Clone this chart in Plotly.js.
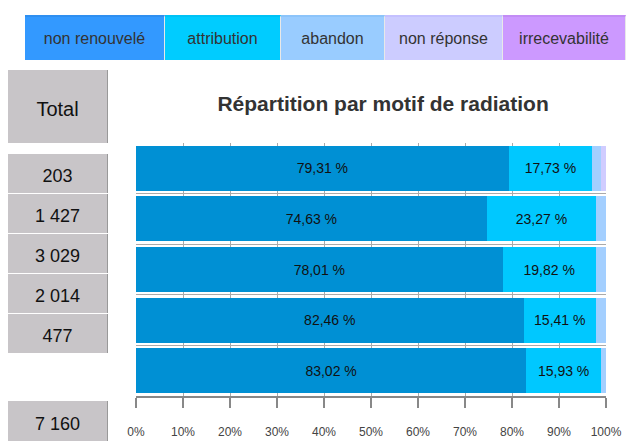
<!DOCTYPE html>
<html>
<head>
<meta charset="utf-8">
<script src="https://cdn.plot.ly/plotly-3.0.1.min.js"></script>
<style>
  body { margin: 0; background: #fff; font-family: "Liberation Sans", Arial, sans-serif; }
  #wrap { position: relative; width: 626px; height: 441px; overflow: hidden; }
  #chart { position: absolute; left: 0; top: 0; width: 626px; height: 441px; }
  #legend { position: absolute; left: 25px; top: 15px; height: 45px; display: flex; }
  #legend div { height: 45px; line-height: 44px; text-align: center; font-size: 16px; color: #333;
                border-top: 2px solid; border-right: 1px solid #e8e8e8; box-sizing: border-box; }
  .cell { position: absolute; left: 8px; width: 100px; background: #c8c5c8; color: #111;
          text-align: center; font-size: 18px; border-right: 1px solid #999; box-sizing: border-box; }
</style>
</head>
<body>
<div id="wrap">
  <div id="chart"></div>
  <div id="legend"></div>
  <div id="cells"></div>
</div>
<script>
// Categories (one row per group) and totals shown at left
const rows = ['r1', 'r2', 'r3', 'r4', 'r5'];
const totals = ['203', '1 427', '3 029', '2 014', '477'];
const grandTotal = '7 160';

// Series (percent of each row)
const seriesNames = ['non renouvelé', 'attribution', 'abandon', 'non réponse', 'irrecevabilité'];
const nonRenouvele = [79.31, 74.63, 78.01, 82.46, 83.02];
const attribution = [17.73, 23.27, 19.82, 15.41, 15.93];
const abandon = [2.0, 2.1, 2.17, 2.13, 1.05];
const nonReponse = [0.96, 0, 0, 0, 0];
const irrecevabilite = [0, 0, 0, 0, 0];

const barColors = ['#0090d4', '#00c8ff', '#a3cfff', '#d0ccff', '#cc99ff'];
const legendColors = ['#3399ff', '#00ccff', '#99ccff', '#ccccff', '#cc99ff'];
const legendTop = ['#2f8ff0', '#00c2f5', '#8cc4fa', '#c4c0ff', '#c28cf5'];
const legendWidths = [140, 116, 104, 118, 123];

// HTML legend
const legend = document.getElementById('legend');
seriesNames.forEach((name, i) => {
    const d = document.createElement('div');
    d.textContent = name;
    d.style.width = legendWidths[i] + 'px';
    d.style.background = legendColors[i];
    d.style.borderTopColor = legendTop[i];
    legend.appendChild(d);
});

// Left cells
const cells = document.getElementById('cells');
function addCell(text, top, height, size) {
    const c = document.createElement('div');
    c.className = 'cell';
    c.textContent = text;
    c.style.top = top + 'px';
    c.style.height = height + 'px';
    c.style.lineHeight = (height + 6) + 'px';
    if (size) c.style.fontSize = size + 'px';
    cells.appendChild(c);
}
addCell('Total', 70, 73, 20);
totals.forEach((t, i) => addCell(t, 154 + i * 40, 39));
addCell(grandTotal, 401, 40);

const fmt = v => v.toFixed(2).replace('.', ',') + ' %';
const allValues = [nonRenouvele, attribution, abandon, nonReponse, irrecevabilite];

const traces = allValues.map((vals, i) => ({
    type: 'bar',
    orientation: 'h',
    y: rows,
    x: vals,
    name: seriesNames[i],
    width: 0.89,
    marker: { color: barColors[i] },
    text: i < 2 ? vals.map(fmt) : undefined,
    textposition: i < 2 ? 'inside' : 'none',
    insidetextanchor: 'middle',
    constraintext: 'none',
    textfont: { color: '#111', size: 14, family: 'Liberation Sans, Arial, sans-serif' },
    hoverinfo: 'none'
}));

const layout = {
    width: 626,
    height: 441,
    barmode: 'stack',
    showlegend: false,
    paper_bgcolor: 'rgba(0,0,0,0)',
    plot_bgcolor: '#fff',
    margin: { l: 136, r: 20, t: 143, b: 45 },
    title: {
        text: '<b>Répartition par motif de radiation</b>',
        font: { size: 21, color: '#333', family: 'Liberation Sans, Arial, sans-serif' },
        x: 0.612, xanchor: 'center', y: 0.766, yanchor: 'middle'
    },
    xaxis: {
        range: [0, 100],
        tickvals: [0, 10, 20, 30, 40, 50, 60, 70, 80, 90, 100],
        ticktext: ['0%', '10%', '20%', '30%', '40%', '50%', '60%', '70%', '80%', '90%', '100%'],
        ticks: 'outside', ticklen: 10, tickcolor: '#888', tickwidth: 2,
        ticklabelstandoff: 14,
        tickfont: { size: 12, color: '#444', family: 'Liberation Sans, Arial, sans-serif' },
        showgrid: true, gridcolor: '#aaa', gridwidth: 1,
        showline: true, linecolor: '#888', linewidth: 2,
        zeroline: false, fixedrange: true
    },
    yaxis: {
        autorange: 'reversed',
        showticklabels: false,
        tickson: 'boundaries',
        showgrid: true, gridcolor: '#aaa',
        ticks: '',
        showline: false, zeroline: false
    }
};

Plotly.newPlot('chart', traces, layout, { staticPlot: true });
</script>
</body>
</html>
